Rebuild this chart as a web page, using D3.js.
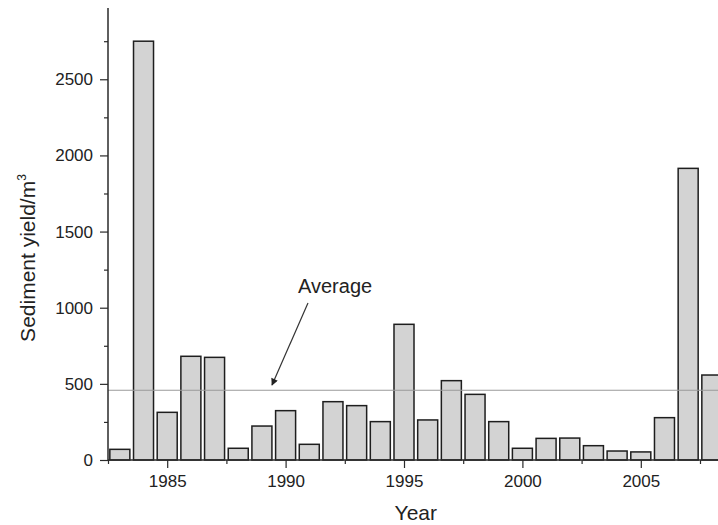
<!DOCTYPE html>
<html>
<head>
<meta charset="utf-8">
<script src="https://cdn.jsdelivr.net/npm/d3@7/dist/d3.min.js"></script>
<style>
  html, body { margin: 0; padding: 0; background: #fff; }
  svg { display: block; }
  text { font-family: "Liberation Sans", Arial, Helvetica, sans-serif; fill: #222; }
</style>
</head>
<body>
<svg id="chart" width="718" height="525"></svg>
<script>
// ---- data ----
const years = [1983, 1984, 1985, 1986, 1987, 1988, 1989, 1990, 1991, 1992, 1993, 1994, 1995,
               1996, 1997, 1998, 1999, 2000, 2001, 2002, 2003, 2004, 2005, 2006, 2007, 2008];
const sediment = [70, 2750, 313, 681, 674, 77, 223, 324, 103, 383, 357, 252, 891,
                  263, 521, 431, 252, 77, 142, 144, 94, 59, 53, 278, 1915, 558];
const averageValue = 458;
const xMajorTicks = [1985, 1990, 1995, 2000, 2005];
const xMinorTicks = [1982.5, 1987.5, 1992.5, 1997.5, 2002.5, 2007.5];
const yMajorTicks = [0, 500, 1000, 1500, 2000, 2500];
const yMinorTicks = [250, 750, 1250, 1750, 2250, 2750];
const xTitle = "Year";
const yTitle = "Sediment yield/m";
const annotationText = "Average";

// ---- layout ----
const svg = d3.select("#chart");
const mLeft = 108, mBottom = 460, mTop = 8;
const pxPerYear = 23.68;
const x = d3.scaleLinear().domain([1982.5, 2010]).range([mLeft, mLeft + 27.5 * pxPerYear]);
const y = d3.scaleLinear().domain([0, 2968]).range([mBottom, mTop]);
const barW = (x(1) - x(0)) * 0.845;

// bars
svg.append("g").selectAll("rect").data(years).join("rect")
  .attr("x", (d) => x(d) - barW / 2)
  .attr("y", (d, i) => y(sediment[i]))
  .attr("width", barW)
  .attr("height", (d, i) => y(0) - y(sediment[i]))
  .attr("fill", "#d3d3d3")
  .attr("stroke", "#1e1e1e")
  .attr("stroke-width", 1.5);

// average line
svg.append("line")
  .attr("x1", mLeft).attr("x2", 718)
  .attr("y1", y(averageValue)).attr("y2", y(averageValue))
  .attr("stroke", "#9a9a9a").attr("stroke-width", 1);

// axes
const axisColor = "#2a2a2a";
const xAxis = svg.append("g").attr("transform", `translate(0,${mBottom})`)
  .call(d3.axisBottom(x).tickValues(xMajorTicks).tickFormat(d3.format("d")).tickSize(8).tickPadding(7));
const xMinor = svg.append("g").attr("transform", `translate(0,${mBottom})`)
  .call(d3.axisBottom(x).tickValues(xMinorTicks).tickFormat("").tickSize(4));
const yAxis = svg.append("g").attr("transform", `translate(${mLeft},0)`)
  .call(d3.axisLeft(y).tickValues(yMajorTicks).tickFormat(d3.format("d")).tickSize(8).tickPadding(7));
const yMinor = svg.append("g").attr("transform", `translate(${mLeft},0)`)
  .call(d3.axisLeft(y).tickValues(yMinorTicks).tickFormat("").tickSize(4));

[xAxis, xMinor, yAxis, yMinor].forEach(g => {
  g.select(".domain").remove();
  g.selectAll(".tick line").attr("stroke", axisColor).attr("stroke-width", 1.2);
  g.selectAll("text").attr("font-size", 17).attr("fill", "#222")
    .attr("font-family", '"Liberation Sans", Arial, sans-serif');
});
// axis lines
svg.append("line").attr("x1", mLeft).attr("x2", 718).attr("y1", mBottom).attr("y2", mBottom)
  .attr("stroke", axisColor).attr("stroke-width", 1.5);
svg.append("line").attr("x1", mLeft).attr("x2", mLeft).attr("y1", mTop).attr("y2", mBottom)
  .attr("stroke", axisColor).attr("stroke-width", 1.5);

// titles
svg.append("text").attr("x", x(1995.5)).attr("y", 520)
  .attr("text-anchor", "middle").attr("font-size", 21).text(xTitle);

const yt = svg.append("text")
  .attr("transform", `translate(35,258) rotate(-90)`)
  .attr("text-anchor", "middle").attr("font-size", 21);
yt.append("tspan").text(yTitle);
yt.append("tspan").attr("dy", -9).attr("font-size", 12).text("3");

// annotation
svg.append("defs").append("marker")
  .attr("id", "arrow").attr("viewBox", "0 0 10 10").attr("refX", 9).attr("refY", 5)
  .attr("markerWidth", 9).attr("markerHeight", 7).attr("orient", "auto")
  .attr("markerUnits", "userSpaceOnUse")
  .append("path").attr("d", "M0,0 L10,5 L0,10 Z").attr("fill", "#222");

svg.append("text").attr("x", 298).attr("y", 293).attr("font-size", 20).text(annotationText);
svg.append("line")
  .attr("x1", 308).attr("y1", 303).attr("x2", 272).attr("y2", 385)
  .attr("stroke", "#333").attr("stroke-width", 1.2)
  .attr("marker-end", "url(#arrow)");
</script>
</body>
</html>
